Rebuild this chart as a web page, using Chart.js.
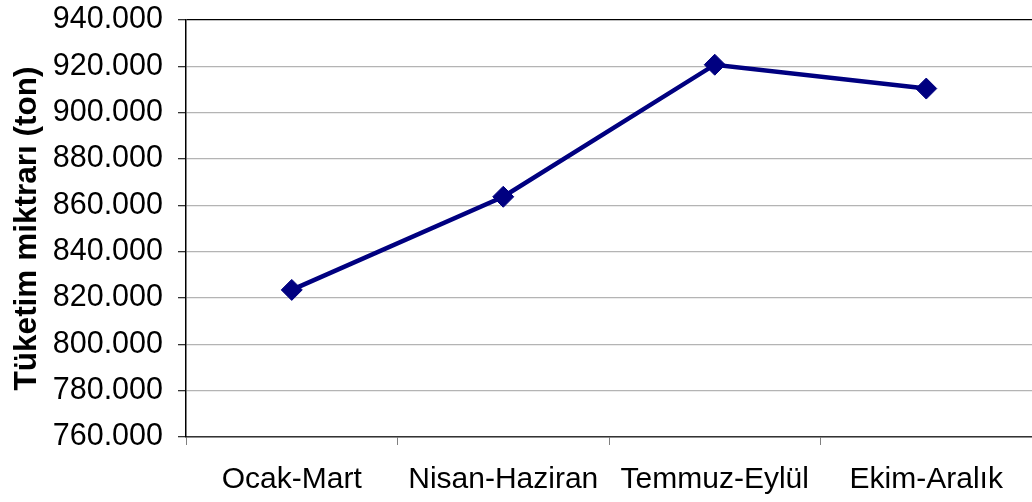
<!DOCTYPE html>
<html>
<head>
<meta charset="utf-8">
<script src="https://cdn.jsdelivr.net/npm/chart.js@4"></script>
<style>
  html, body { margin: 0; padding: 0; background: #fff; overflow: hidden; }
  #wrap { width: 1032px; height: 502px; }
  canvas { display: block; }
</style>
</head>
<body>
<div id="wrap"><canvas id="consumptionChart" width="1032" height="502"></canvas></div>
<script>
const quarters = ['Ocak-Mart', 'Nisan-Haziran', 'Temmuz-Eylül', 'Ekim-Aralık'];
const consumption = [823500, 863700, 920700, 910400];
const yTicks = [760000, 780000, 800000, 820000, 840000, 860000, 880000, 900000, 920000, 940000];
const yTitle = 'Tüketim miktrarı (ton)';

const formatThousands = v => String(v).replace(/\B(?=(\d{3})+(?!\d))/g, '.');

document.addEventListener('DOMContentLoaded', function () {
    const canvas = document.getElementById('consumptionChart');
    const fontFamily = '"Liberation Sans", Arial, sans-serif';

    new Chart(canvas, {
        type: 'line',
        data: {
            labels: quarters,
            datasets: [{
                data: consumption,
                borderColor: '#000080',
                backgroundColor: '#000080',
                borderWidth: 4.5,
                pointStyle: 'rectRot',
                pointRadius: 10.5,
                pointBorderWidth: 1,
                pointBackgroundColor: '#000080',
                pointBorderColor: '#000080',
                tension: 0,
                fill: false
            }]
        },
        options: {
            responsive: false,
            animation: false,
            layout: { autoPadding: false, padding: { top: 20, right: -3, bottom: 0, left: 0 } },
            plugins: {
                legend: { display: false },
                tooltip: { enabled: false }
            },
            scales: {
                x: {
                    offset: true,
                    afterFit: scale => {
                        scale.height = 65;
                        scale.paddingLeft = 0;
                        scale.paddingRight = 0;
                    },
                    grid: {
                        offset: true,
                        drawOnChartArea: false,
                        drawTicks: true,
                        tickLength: 8,
                        color: '#808080'
                    },
                    border: { display: true, color: '#333', width: 1.5 },
                    ticks: {
                        color: '#000',
                        padding: 17,
                        maxRotation: 0,
                        font: { family: fontFamily, size: 30 }
                    }
                },
                y: {
                    min: yTicks[0],
                    max: yTicks[yTicks.length - 1],
                    afterBuildTicks: scale => {
                        scale.ticks = yTicks.map(v => ({ value: v }));
                    },
                    afterFit: scale => {
                        scale.width = 186;
                        scale.paddingTop = 0;
                        scale.paddingBottom = 0;
                    },
                    grid: {
                        color: ctx => (ctx.tick && ctx.tick.value === yTicks[yTicks.length - 1]) ? '#000' : '#b4b4b4',
                        tickColor: '#333',
                        tickLength: 8,
                        lineWidth: 1.3
                    },
                    border: { display: true, color: '#000', width: 1.5 },
                    ticks: {
                        color: '#000',
                        padding: 15,
                        font: { family: fontFamily, size: 30.5 },
                        callback: value => formatThousands(value)
                    },
                    title: {
                        display: true,
                        text: yTitle,
                        color: '#000',
                        padding: { top: 8, bottom: 0 },
                        font: { family: fontFamily, size: 31.5, weight: 'bold' }
                    }
                }
            }
        }
    });
});
</script>
</body>
</html>
